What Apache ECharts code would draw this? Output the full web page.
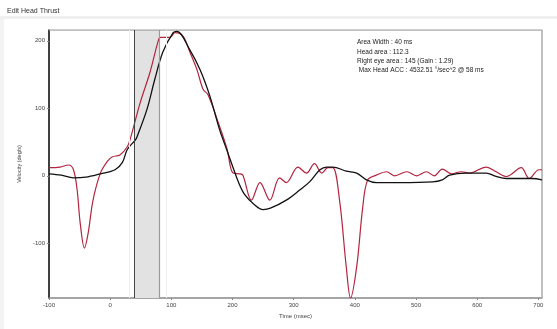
<!DOCTYPE html>
<html><head><meta charset="utf-8">
<script src="https://cdn.jsdelivr.net/npm/echarts@6/dist/echarts.min.js"></script>
<style>html,body{margin:0;padding:0;background:#fff}#c{width:557px;height:329px}</style>
</head><body><div id="c"></div>
<script>
var xTicks = [-100, 0, 100, 200, 300, 400, 500, 600, 700];
var yTicks = [-100, 0, 100, 200];
var headT = [-100,-80,-60,-40,-16,8,20,28,41,44,60,73,86,103,109,130,147,163,179,190,201,210,220,235,250,262,288,310,326,343,354,364,386,403,419,435,473,527,543,555,582,615,631,648,690,706];
var headV = [3,1,-3,-2,3,9,20,39,53,58,98,143,183,212,214,187,157,118,68,40,12,-10,-28,-42,-50,-48,-36,-21,-9,9,13,13,7,4,-6,-10,-10,-9,-6,1,4,4,-1,-4,-4,-6];
var eyeT = [-100,-82,-68,-60,-54,-49,-42,-36,-28,-16,-5,3,16,28,33,49,65,78,82,98,106,119,130,142,152,160,179,191,201,212,217,231,245,261,277,288,307,321,334,346,356,364,375,386,393,403,413,421,435,452,465,485,501,517,530,543,558,574,587,615,631,648,672,685,701,706];
var eyeV = [12,13,16,9,-21,-70,-107,-85,-36,4,21,28,31,43,55,108,153,198,205,205,212,207,184,157,128,120,73,40,4,3,1,-36,-10,-36,-3,-10,13,4,18,4,12,12,-36,-135,-181,-135,-46,-6,1,6,0,6,0,6,0,10,3,6,4,13,6,-1,12,-4,9,9];
var areaStart = 40, areaEnd = 80;
var infoLines = ['Area Width : 40 ms', 'Head area : 112.3', 'Right eye area : 145 (Gain : 1.29)', ' Max Head ACC : 4532.51 °/sec^2 @ 58 ms'];

function pairs(t, v){ return t.map(function(x,i){ return [x, v[i]]; }); }

var chart = echarts.init(document.getElementById('c'), null, {renderer:'canvas'});
var lab = {fontSize:6, color:'#444', fontFamily:'Liberation Sans'};
chart.setOption({
  animation:false,
  backgroundColor:'#fff',
  title:{text:'Edit Head Thrust', left:2, top:3, textStyle:{fontSize:7, fontWeight:'normal', color:'#333', fontFamily:'Liberation Sans'}},
  graphic:[
    {type:'rect', shape:{x:0,y:16,width:557,height:3}, style:{fill:'#f0f0f0'}, silent:true},
    {type:'rect', shape:{x:0,y:19,width:4,height:310}, style:{fill:'#f3f3f3'}, silent:true},
    {type:'text', left:357, top:38, style:{text:infoLines.join('\n'), fontSize:6.5, lineHeight:9.3, fill:'#222', fontFamily:'Liberation Sans'}}
  ],
  grid:{left:49, right:15, top:30, bottom:31},
  xAxis:{type:'value', min:-100, max:706, name:'Time (msec)', nameLocation:'middle', nameGap:9,
    nameTextStyle:{fontSize:6, color:'#444', fontFamily:'Liberation Sans'},
    axisLine:{onZero:false, lineStyle:{color:'#888', width:1.5}},
    axisTick:{show:true, length:2, customValues:xTicks, lineStyle:{color:'#888'}},
    axisLabel:Object.assign({customValues:xTicks, margin:4}, lab),
    splitLine:{show:false}},
  yAxis:{type:'value', min:-181, max:216, name:'Velocity (deg/s)', nameLocation:'middle', nameGap:20,
    nameTextStyle:{fontSize:5.5, color:'#444', fontFamily:'Liberation Sans'},
    axisLine:{show:true, onZero:false, lineStyle:{color:'#000', width:1.5}},
    axisTick:{show:true, length:2, customValues:yTicks, lineStyle:{color:'#888'}},
    axisLabel:Object.assign({customValues:yTicks, margin:4}, lab),
    splitLine:{show:false}},
  series:[
    {type:'line', name:'frame', data:[[-100,216],[706,216],[706,-181]], symbol:'none', silent:true,
      lineStyle:{color:'#aaa', width:1.5}, z:1,
      markArea:{silent:true, itemStyle:{color:'#e2e2e2'}, data:[[{xAxis:areaStart},{xAxis:areaEnd}]]},
      markLine:{silent:true, symbol:'none', label:{show:false}, data:[
        {xAxis:areaStart, lineStyle:{color:'#444', width:1, type:'solid'}},
        {xAxis:areaEnd, lineStyle:{color:'#999', width:1.2, type:'solid'}},
        {xAxis:32, lineStyle:{color:'#eee', width:1, type:'solid'}},
        {xAxis:91, lineStyle:{color:'#eee', width:1, type:'solid'}}
      ]}},
    {type:'line', name:'Eye', data:pairs(eyeT, eyeV), symbol:'none', smooth:0.35,
      lineStyle:{color:'#b3243e', width:1.2}, z:3},
    {type:'line', name:'Head', data:pairs(headT, headV), symbol:'none', smooth:0.35,
      lineStyle:{color:'#111', width:1.3}, z:4}
  ]
});
</script></body></html>
